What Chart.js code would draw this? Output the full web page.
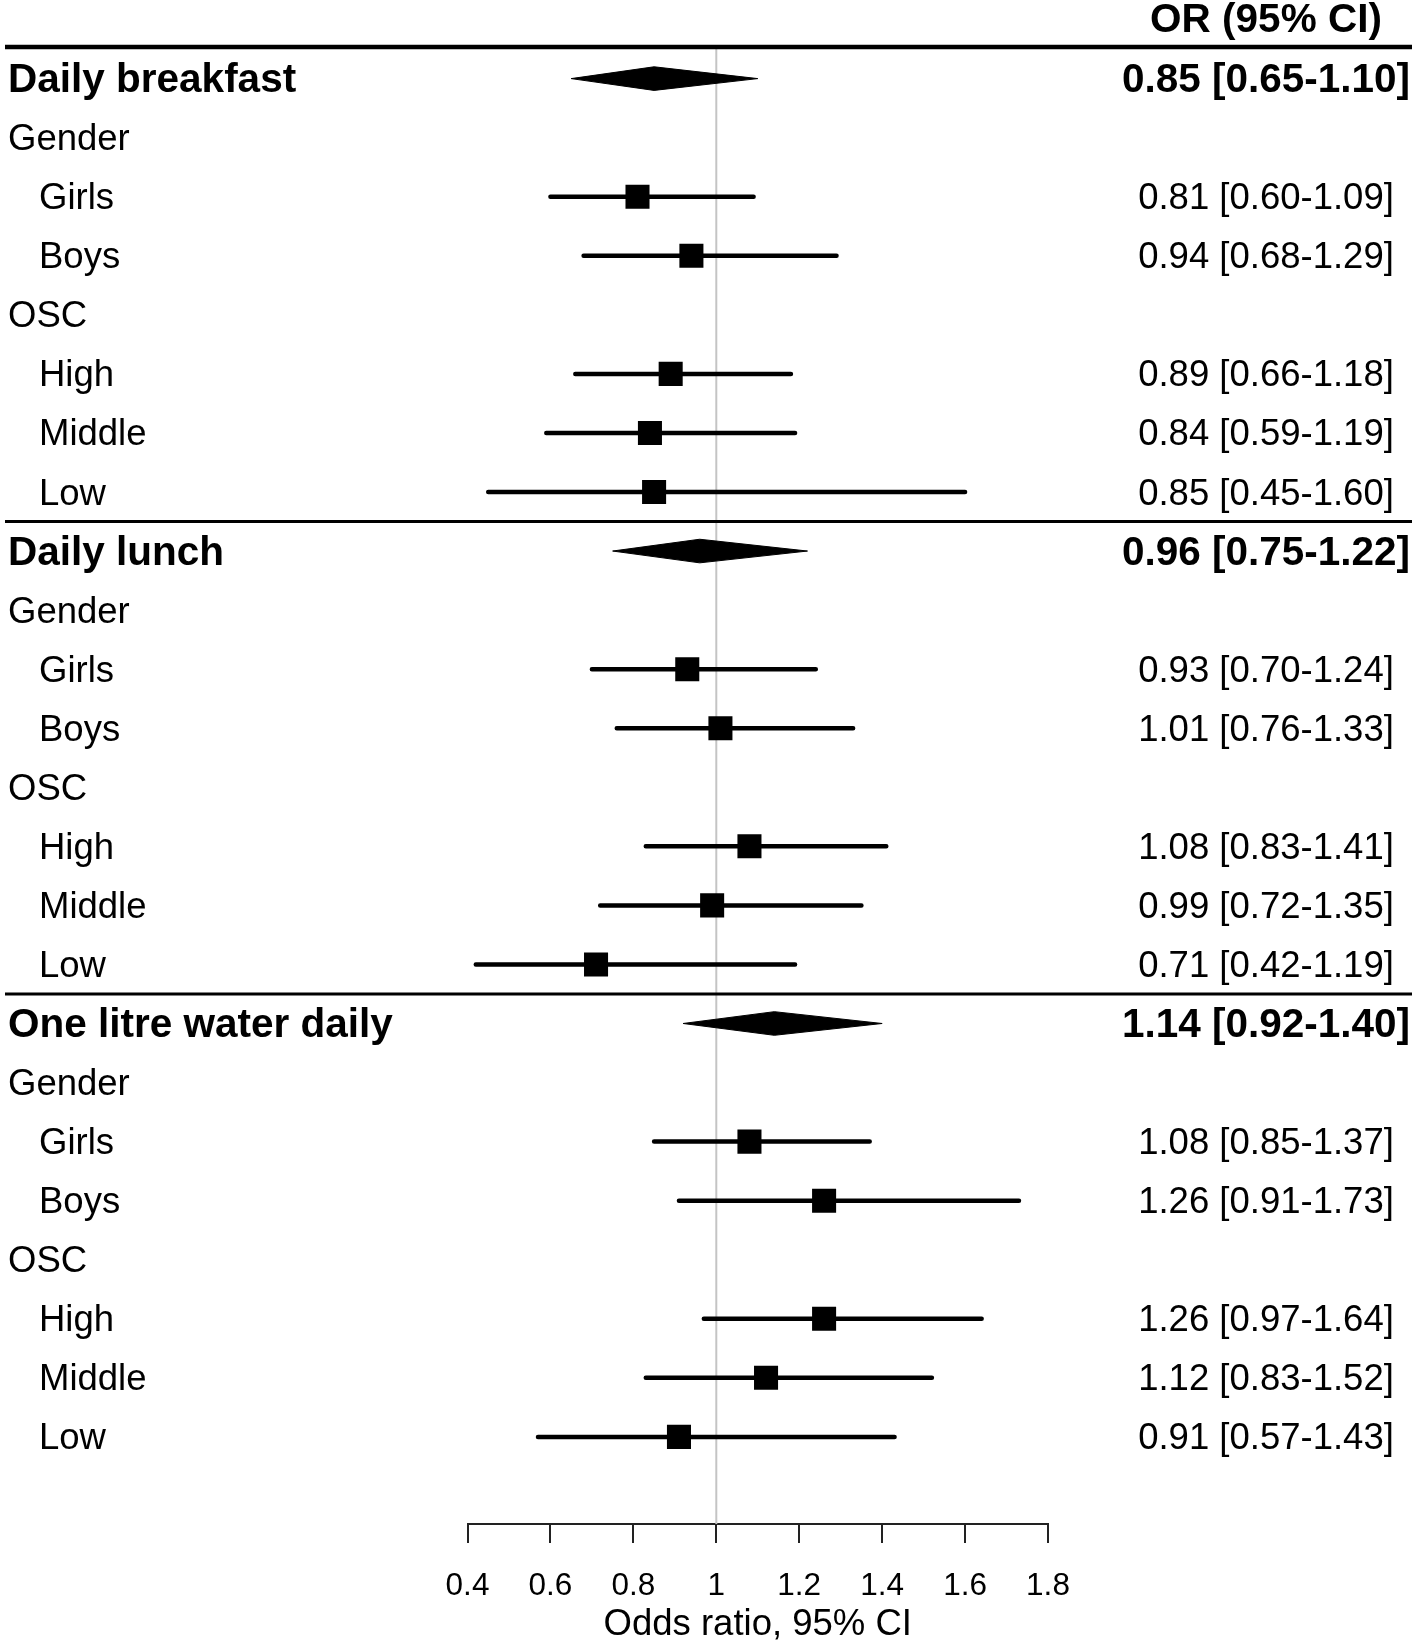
<!DOCTYPE html>
<html>
<head>
<meta charset="utf-8">
<script src="https://cdn.jsdelivr.net/npm/chart.js@4.4.1/dist/chart.umd.min.js"></script>
<style>
  html, body { margin: 0; padding: 0; background: #fff; }
  #wrap { width: 1416px; height: 1643px; }
</style>
</head>
<body>
<div id="wrap"><canvas id="forest" width="1416" height="1643"></canvas></div>
<script>
// rows, top to bottom
const rowLabels = [
  'Daily breakfast', 'Gender', 'Girls', 'Boys', 'OSC', 'High', 'Middle', 'Low',
  'Daily lunch', 'Gender', 'Girls', 'Boys', 'OSC', 'High', 'Middle', 'Low',
  'One litre water daily', 'Gender', 'Girls', 'Boys', 'OSC', 'High', 'Middle', 'Low'
];
const rowKinds = [
  'summary', 'group', 'item', 'item', 'group', 'item', 'item', 'item',
  'summary', 'group', 'item', 'item', 'group', 'item', 'item', 'item',
  'summary', 'group', 'item', 'item', 'group', 'item', 'item', 'item'
];
const estimates = [0.85, null, 0.81, 0.94, null, 0.89, 0.84, 0.85,
                   0.96, null, 0.93, 1.01, null, 1.08, 0.99, 0.71,
                   1.14, null, 1.08, 1.26, null, 1.26, 1.12, 0.91];
const lower     = [0.65, null, 0.60, 0.68, null, 0.66, 0.59, 0.45,
                   0.75, null, 0.70, 0.76, null, 0.83, 0.72, 0.42,
                   0.92, null, 0.85, 0.91, null, 0.97, 0.83, 0.57];
const upper     = [1.10, null, 1.09, 1.29, null, 1.18, 1.19, 1.60,
                   1.22, null, 1.24, 1.33, null, 1.41, 1.35, 1.19,
                   1.40, null, 1.37, 1.73, null, 1.64, 1.52, 1.43];
const xTicks = [0.4, 0.6, 0.8, 1, 1.2, 1.4, 1.6, 1.8];
const separatorsAfter = [7, 15];

const FONT = '"Liberation Sans", Arial, Helvetica, sans-serif';
const fmt = v => v.toFixed(2);

// build datasets from the arrays
const squarePts = [], ciPts = [], diamonds = [];
rowKinds.forEach((k, i) => {
  if (k === 'item') {
    squarePts.push({ x: estimates[i], y: i });
    ciPts.push({ x: lower[i], y: i }, { x: upper[i], y: i }, { x: null, y: null });
  } else if (k === 'summary') {
    diamonds.push({
      type: 'scatter', showLine: true, fill: 'shape', tension: 0,
      borderColor: '#000', backgroundColor: '#000', borderWidth: 1, pointRadius: 0,
      data: [
        { x: lower[i], y: i }, { x: estimates[i], y: i - 0.2 },
        { x: upper[i], y: i }, { x: estimates[i], y: i + 0.2 }, { x: lower[i], y: i }
      ]
    });
  }
});

const forestText = {
  id: 'forestText',
  beforeDatasetsDraw(chart) {
    const { ctx, scales: { x } } = chart;
    const x1 = x.getPixelForValue(1);
    ctx.save();
    ctx.strokeStyle = '#c4c4c4';
    ctx.lineWidth = 2;
    ctx.beginPath();
    ctx.moveTo(x1, 47);
    ctx.lineTo(x1, chart.chartArea.bottom);
    ctx.stroke();
    ctx.restore();
  },
  afterDraw(chart) {
    const { ctx, scales: { y } } = chart;
    ctx.save();
    ctx.fillStyle = '#000';
    ctx.strokeStyle = '#000';
    ctx.textBaseline = 'middle';

    // header rule + group separators
    ctx.lineWidth = 4.5;
    ctx.beginPath(); ctx.moveTo(5, 47); ctx.lineTo(1412, 47); ctx.stroke();
    ctx.lineWidth = 3;
    separatorsAfter.forEach(r => {
      const py = y.getPixelForValue(r + 0.5);
      ctx.beginPath(); ctx.moveTo(5, py); ctx.lineTo(1412, py); ctx.stroke();
    });

    const colCenter = 1266;
    const bold = 'bold 40.5px ' + FONT, plain = '36.5px ' + FONT;
    ctx.font = bold;
    ctx.textAlign = 'center';
    ctx.fillText('OR (95% CI)', colCenter, 21);

    rowLabels.forEach((lab, i) => {
      const py = y.getPixelForValue(i) + 2.5;
      const kind = rowKinds[i];
      ctx.textAlign = 'left';
      ctx.font = kind === 'summary' ? bold : plain;
      ctx.fillText(lab, kind === 'item' ? 39 : 8, py);
      if (estimates[i] != null) {
        ctx.textAlign = 'center';
        ctx.fillText(fmt(estimates[i]) + ' [' + fmt(lower[i]) + '-' + fmt(upper[i]) + ']', colCenter, py);
      }
    });
    ctx.restore();
  }
};

new Chart(document.getElementById('forest'), {
  type: 'scatter',
  data: {
    datasets: [
      {
        data: squarePts, pointStyle: 'rect', pointRadius: 17, pointHoverRadius: 17,
        pointBackgroundColor: '#000', pointBorderWidth: 0, showLine: false
      },
      {
        data: ciPts, showLine: true, borderColor: '#000', borderWidth: 4.5,
        borderCapStyle: 'round', pointRadius: 0, spanGaps: false
      },
      ...diamonds
    ]
  },
  options: {
    responsive: false,
    animation: false,
    events: [],
    layout: { padding: { left: 467.5, right: 368, top: 47, bottom: 0 } },
    plugins: { legend: { display: false }, tooltip: { enabled: false } },
    scales: {
      x: {
        type: 'linear', min: 0.4, max: 1.8,
        afterBuildTicks: s => { s.ticks = xTicks.map(v => ({ value: v })); },
        afterFit: s => { s.height = 119; },
        border: { display: true, color: '#222', width: 2 },
        grid: { drawOnChartArea: false, drawTicks: true, tickLength: 19, color: '#222', lineWidth: 2 },
        ticks: {
          color: '#000', padding: 24, maxRotation: 0, autoSkip: false,
          font: { family: FONT, size: 31.5 },
          callback: v => String(+Number(v).toFixed(1))
        },
        title: {
          display: true, text: 'Odds ratio, 95% CI', color: '#000',
          font: { family: FONT, size: 36.5, lineHeight: 1 }, padding: 0
        }
      },
      y: { type: 'linear', reverse: true, min: -0.535, max: 24.475, display: false }
    }
  },
  plugins: [forestText]
});
</script>
</body>
</html>
